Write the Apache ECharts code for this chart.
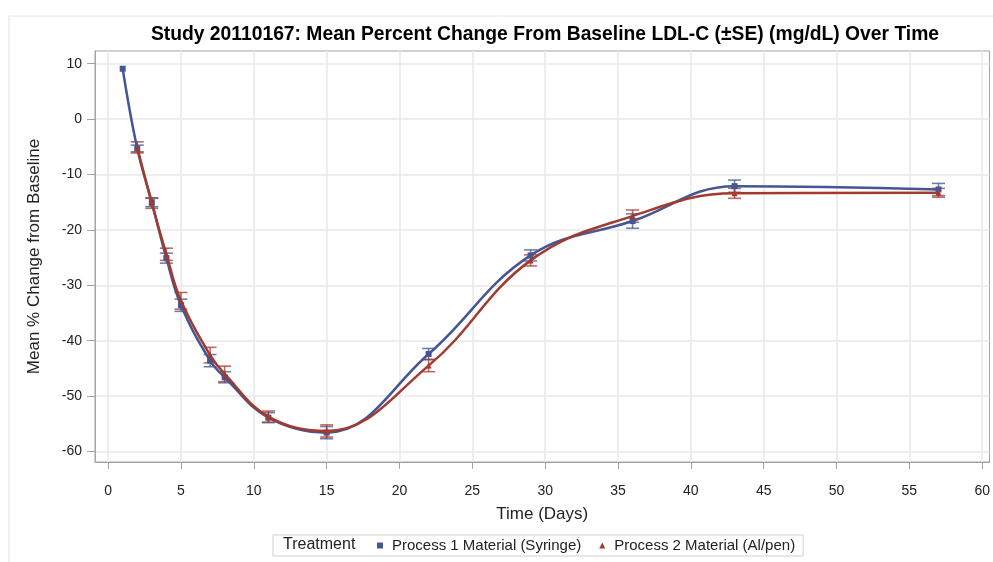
<!DOCTYPE html>
<html>
<head>
<meta charset="utf-8">
<script src="https://cdn.jsdelivr.net/npm/echarts@6/dist/echarts.min.js"></script>
<style>
  html, body { margin: 0; padding: 0; background: #fff; }
  #chart { width: 993px; height: 562px; }
</style>
</head>
<body>
<div id="chart"></div>
<script>
// Study visit days and mean % change from baseline (±SE) per treatment
const p1Days = [1, 2, 3, 4, 5, 7, 8, 11, 15, 22, 29, 36, 43, 57];
const p1Mean = [9.1, -5.3, -15.0, -25.1, -33.6, -43.6, -46.6, -53.9, -56.6, -42.4, -24.6, -18.4, -12.1, -12.7];
const p1SE   = [0, 0.6, 0.8, 0.9, 1.1, 1.1, 1.0, 0.9, 1.1, 1.0, 1.0, 1.3, 1.1, 1.1];

const p2Days = [2, 3, 4, 5, 7, 8, 11, 15, 22, 29, 36, 43, 57];
const p2Mean = [-5.1, -15.2, -24.4, -32.8, -42.6, -46.0, -53.7, -56.3, -44.5, -25.5, -17.5, -13.4, -13.3];
const p2SE   = [1.0, 0.9, 1.1, 1.5, 1.4, 1.4, 1.0, 1.1, 1.1, 1.0, 1.1, 0.9, 0.8];

const xTicks = [0, 5, 10, 15, 20, 25, 30, 35, 40, 45, 50, 55, 60];
const yTicks = [10, 0, -10, -20, -30, -40, -50, -60];

const seriesNames = ['Process 1 Material (Syringe)', 'Process 2 Material (Al/pen)'];
const colors = ['#445694', '#A23A2E'];

const FONT = '"Liberation Sans", Arial, sans-serif';

function pairs(xs, ys) { return xs.map((x, i) => [x, ys[i]]); }
function bars(xs, ys, se) {
  const out = [];
  xs.forEach((x, i) => { if (se[i] > 0) out.push([x, ys[i] - se[i], ys[i] + se[i]]); });
  return out;
}

// whisker with caps, placed through the cartesian scales
function errorBar(color) {
  return function (params, api) {
    const x = api.value(0);
    const lo = api.coord([x, api.value(1)]);
    const hi = api.coord([x, api.value(2)]);
    const w = 6.5;
    const style = { stroke: color, lineWidth: 1.6, opacity: 0.75 };
    return {
      type: 'group',
      children: [
        { type: 'line', shape: { x1: lo[0], y1: lo[1], x2: hi[0], y2: hi[1] }, style },
        { type: 'line', shape: { x1: lo[0] - w, y1: lo[1], x2: lo[0] + w, y2: lo[1] }, style },
        { type: 'line', shape: { x1: hi[0] - w, y1: hi[1], x2: hi[0] + w, y2: hi[1] }, style }
      ]
    };
  };
}

const chart = echarts.init(document.getElementById('chart'), null, { renderer: 'canvas' });

const axisGray = '#a3a3a3';
const gridGray = '#e8e8e8';

chart.setOption({
  animation: false,
  backgroundColor: '#fff',
  title: {
    text: 'Study 20110167: Mean Percent Change From Baseline LDL-C (±SE) (mg/dL) Over Time',
    left: 540, top: 20, textAlign: 'center',
    textStyle: { fontFamily: FONT, fontSize: 19.3, fontWeight: 'bold', color: '#000' }
  },
  grid: {
    left: 95, top: 51, right: 2, bottom: 100,
    show: true, borderColor: axisGray, borderWidth: 1, backgroundColor: '#fff'
  },
  legend: {
    data: [
      { name: seriesNames[0], icon: 'rect' },
      { name: seriesNames[1], icon: 'triangle' }
    ],
    left: 273, top: 535,
    itemWidth: 6, itemHeight: 6, itemGap: 18,
    padding: [3, 8, 3, 104],
    borderColor: '#cfcfcf', borderWidth: 1,
    textStyle: { fontFamily: FONT, fontSize: 15, color: '#222', padding: [0, 0, 0, 4] }
  },
  graphic: [
    { type: 'text', left: 283, top: 537,
      style: { text: 'Treatment', font: '16px ' + FONT, fill: '#222' } },
    { type: 'rect', shape: { x: 9, y: 16, width: 1000, height: 560 },
      style: { fill: 'none', stroke: '#e2e2e2', lineWidth: 1 }, z: -10 }
  ],
  xAxis: {
    type: 'value', min: -0.9, max: 60.5,
    name: 'Time (Days)', nameLocation: 'middle', nameGap: 44,
    nameTextStyle: { fontFamily: FONT, fontSize: 17, color: '#222' },
    axisLine: { show: true, onZero: false, lineStyle: { color: axisGray } },
    axisTick: { show: true, customValues: xTicks, length: 7, lineStyle: { color: axisGray } },
    axisLabel: { customValues: xTicks, fontFamily: FONT, fontSize: 14, color: '#222', margin: 22 },
    splitLine: { show: true, lineStyle: { color: gridGray, width: 1.5 } }
  },
  yAxis: {
    type: 'value', min: -61.9, max: 12.3,
    name: 'Mean % Change from Baseline', nameLocation: 'middle', nameGap: 52, nameRotate: 90,
    nameTextStyle: { fontFamily: FONT, fontSize: 17, color: '#222' },
    axisLine: { show: true, onZero: false, lineStyle: { color: axisGray } },
    axisTick: { show: true, customValues: yTicks, length: 8, lineStyle: { color: axisGray } },
    axisLabel: { customValues: yTicks, fontFamily: FONT, fontSize: 14, color: '#222', margin: 13 },
    splitLine: { show: true, lineStyle: { color: gridGray, width: 1.5 } }
  },
  series: [
    {
      type: 'custom', name: seriesNames[0] + ' SE', silent: true,
      renderItem: errorBar(colors[0]), data: bars(p1Days, p1Mean, p1SE), z: 3
    },
    {
      type: 'custom', name: seriesNames[1] + ' SE', silent: true,
      renderItem: errorBar(colors[1]), data: bars(p2Days, p2Mean, p2SE), z: 3
    },
    {
      type: 'line', name: seriesNames[0], data: pairs(p1Days, p1Mean),
      smooth: 0.4, symbol: 'rect', symbolSize: 6,
      itemStyle: { color: colors[0] },
      lineStyle: { color: colors[0], width: 2.5 }, z: 4
    },
    {
      type: 'line', name: seriesNames[1], data: pairs(p2Days, p2Mean),
      smooth: 0.4, symbol: 'triangle', symbolSize: 6,
      itemStyle: { color: colors[1] },
      lineStyle: { color: colors[1], width: 2.5 }, z: 5
    }
  ]
});
</script>
</body>
</html>
